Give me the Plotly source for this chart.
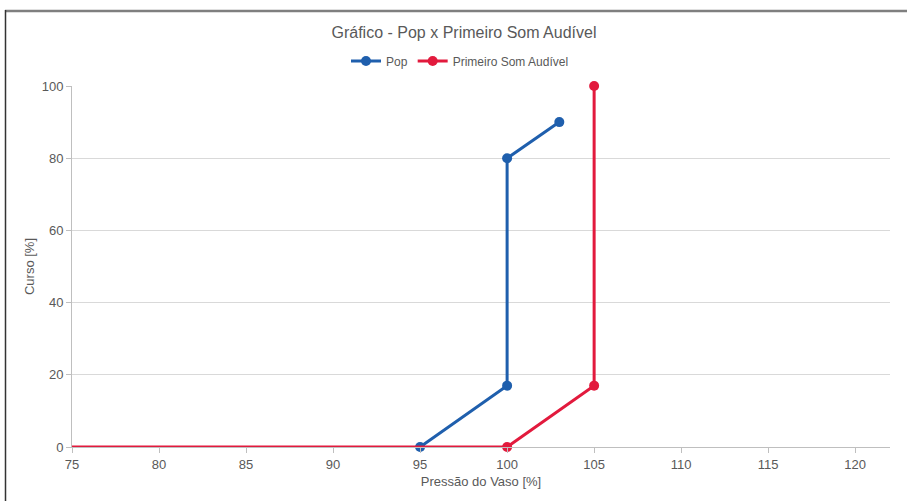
import plotly.graph_objects as go

pop_x = [95, 100, 100, 103]
pop_y = [0, 17, 80, 90]
som_x = [0, 100, 105, 105]
som_y = [0, 0, 17, 100]

x_ticks = [75, 80, 85, 90, 95, 100, 105, 110, 115, 120]
y_ticks = [0, 20, 40, 60, 80, 100]

BLUE = "#1F5FAD"
RED = "#E21A3D"
TXT = "#595959"

fig = go.Figure()
fig.add_trace(go.Scatter(x=pop_x, y=pop_y, mode="lines+markers", name="Pop",
                         line=dict(color=BLUE, width=3), marker=dict(size=10, color=BLUE),
                         cliponaxis=False))
fig.add_trace(go.Scatter(x=som_x, y=som_y, mode="lines+markers", name="Primeiro Som Audível",
                         line=dict(color=RED, width=3), marker=dict(size=10, color=RED),
                         cliponaxis=False))

W, H = 907, 501
PL, PR, PT, PB = 72, 890, 86, 447  # plot area in page pixels
L, R, T, B = PL, W - PR, PT, H - PB
pw, ph = PR - PL, PB - PT

def px2x(px):
    return (px - PL) / pw

def py2y(py):
    return (PB - py) / ph

fig.update_layout(
    width=W, height=H,
    margin=dict(l=L, r=R, t=T, b=B),
    paper_bgcolor="white", plot_bgcolor="white",
    font=dict(family="Liberation Sans, Arial, sans-serif", color=TXT, size=13),
    title=dict(text="Gráfico - Pop x Primeiro Som Audível", x=464 / W, xref="container",
               xanchor="center", y=1 - 32 / H, yanchor="middle",
               font=dict(size=16, color=TXT)),
    legend=dict(orientation="h", x=px2x(460), xanchor="center", y=py2y(61), yanchor="middle",
                font=dict(size=12, color=TXT), itemwidth=30, tracegroupgap=0),
    showlegend=True,
    xaxis=dict(range=[75, 122], tickvals=x_ticks, showgrid=False, zeroline=False,
               showline=True, linecolor="#BFBFBF", linewidth=1, ticks="outside",
               ticklen=5, tickcolor="#BFBFBF", tickfont=dict(size=13, color=TXT),
               title=dict(text="Pressão do Vaso [%]", font=dict(size=13, color=TXT), standoff=6)),
    yaxis=dict(range=[0, 100], tickvals=y_ticks, showgrid=True, gridcolor="#D9D9D9",
               zeroline=False, showline=True, linecolor="#BFBFBF", linewidth=1,
               ticks="outside", ticklen=5, tickcolor="#BFBFBF",
               tickfont=dict(size=13, color=TXT),
               title=dict(text="Curso [%]", font=dict(size=13, color=TXT), standoff=4)),
    shapes=[
        dict(type="line", xref="paper", yref="paper", x0=px2x(5), x1=px2x(907),
             y0=py2y(11), y1=py2y(11), line=dict(color="#7F7F7F", width=2.5)),
        dict(type="line", xref="paper", yref="paper", x0=px2x(5.5), x1=px2x(5.5),
             y0=py2y(10), y1=py2y(501), line=dict(color="#333333", width=1.5)),
    ],
)

fig.write_html("out.html", config={"displayModeBar": False},
               post_script="document.body.style.margin='0px';document.body.style.padding='0px';")
